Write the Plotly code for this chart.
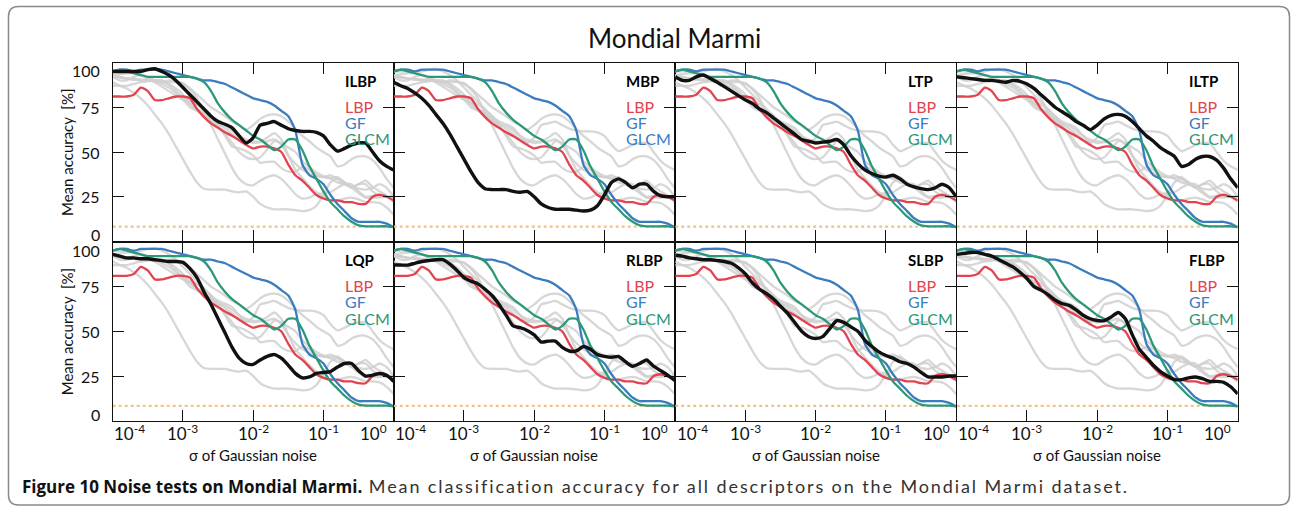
import plotly.graph_objects as go

W, H = 1291, 510

# ---------------- data ----------------
log_sigma = [-4.0, -3.9, -3.8, -3.7, -3.6, -3.5, -3.4, -3.3, -3.2, -3.1,
             -3.0, -2.9, -2.8, -2.7, -2.6, -2.5, -2.4, -2.3, -2.2, -2.1,
             -2.0, -1.9, -1.8, -1.7, -1.6, -1.5, -1.4, -1.3, -1.2, -1.1,
             -1.0, -0.9, -0.8, -0.7, -0.6, -0.5, -0.4, -0.3, -0.2, -0.1, 0.0]

lbp = [81, 81, 81, 82, 86, 84, 79, 79, 80, 81,
       81, 80, 74, 69.5, 66, 63.5, 61, 59, 56.5, 54,
       52, 53, 53, 52, 50, 43, 37, 34, 30, 26,
       24, 23, 23, 22, 22, 21, 21, 25, 26, 25, 23]
gf = [95, 96, 96, 95, 96, 96, 96, 96, 95, 94,
      93, 92, 91, 90, 90, 89, 88, 86, 84, 82,
      80, 79, 78, 76, 73, 70, 62, 43, 37, 35,
      32, 26, 21, 17, 13, 11, 11, 11, 11, 10, 8]
glcm = [95, 96, 95, 94, 93, 92, 92, 92, 92, 92,
        92, 92, 91, 89, 84, 77, 72, 68, 65, 62,
        59, 57, 54, 51, 53, 57, 57, 51, 42, 35,
        28, 22, 18, 14, 11, 9, 8.5, 8.5, 8.5, 8.5, 8]

ilbp = [95, 95, 95, 95, 95, 96, 96.5, 95, 93, 90,
        86, 82, 78, 74, 70, 67, 65.5, 63.5, 59, 55,
        58, 65, 66, 67, 65, 63, 62, 61.5, 61.5, 61,
        59, 54, 50.5, 52, 54, 55, 55, 50, 45, 42, 40]
mbp = [89, 87, 85.5, 83, 80, 76, 71, 66, 60, 53,
       46, 39, 33, 29.5, 29, 29, 29, 28, 27.5, 28,
       25, 21, 19, 18, 18, 18, 17.5, 17, 17.5, 20,
       26, 33, 35, 33, 30, 32, 32, 28, 25.5, 25, 25]
ltp = [92, 90, 90, 92, 93, 91, 89, 86.5, 84, 81.5,
       79, 77, 74, 72, 69, 66, 63, 60, 57, 56,
       55, 55.5, 56, 57, 54, 48, 43.5, 40, 38, 36.5,
       36, 37, 35, 32, 30.5, 29.5, 29, 30, 32, 30, 25]
iltp = [92, 91.5, 91, 90.5, 90, 90, 89.5, 89, 90, 89.5,
        88, 85.5, 82, 78.5, 75, 72.5, 70, 67, 65, 62.5,
        65, 68.5, 70.5, 71, 70, 67, 63, 59, 56, 52.5,
        50, 47.5, 42, 43, 46, 47.5, 47.5, 45.5, 41, 35, 30]
lqp = [93, 92, 91, 91, 90.5, 90.5, 90, 89.5, 89, 89,
       88.5, 85, 80, 72, 65, 57, 49, 41, 35, 32,
       31.5, 34, 36, 37, 35, 31, 26.5, 24, 24.5, 26.5,
       27, 27.5, 30, 32, 32, 28, 25, 25.5, 26.5, 25.5, 22]
rlbp = [87, 87, 87, 88, 89, 89.5, 90, 90, 87.5, 84,
        80, 78, 76.5, 73.5, 70, 65, 59, 53, 52, 50.5,
        48, 44, 44.5, 44.5, 41, 39, 39, 41.5, 40, 37,
        36, 35.5, 36, 33, 30.5, 32, 34, 30.5, 28, 25.5, 22.5]
slbp = [92.5, 92, 91, 90.5, 90, 90, 89.5, 89, 88, 85.5,
        82, 77, 73.5, 71, 68, 64, 60, 55, 50, 47,
        46, 47, 51.5, 56, 55, 52.5, 50, 45, 41.5, 38.5,
        36.5, 35, 33, 32, 30, 27, 24.5, 24.5, 24.5, 25, 25]
flbp = [93, 93.5, 94, 94, 93, 92, 90, 88, 86, 83,
        79.5, 75, 73, 70.5, 67.5, 65.5, 64.5, 62, 59, 57,
        56, 56, 58, 60.5, 57, 48, 40, 35.5, 31, 27.5,
        25, 23, 23, 24, 24.5, 23.5, 22, 22, 21.5, 19, 15]

panel_names = ["ILBP", "MBP", "LTP", "ILTP", "LQP", "RLBP", "SLBP", "FLBP"]
panel_curves = [ilbp, mbp, ltp, iltp, lqp, rlbp, slbp, flbp]

ref_names = ["LBP", "GF", "GLCM"]
ref_curves = [lbp, gf, glcm]

chance_level = 8.33

x_tick_exps = [-4, -3, -2, -1, 0]
x_tick_labels = ["10<sup>-4</sup>", "10<sup>-3</sup>", "10<sup>-2</sup>",
                 "10<sup>-1</sup>", "10<sup>0</sup>"]
y_tick_vals = [0, 25, 50, 75, 100]
y_tick_labels = ["0", "25", "50", "75", "100"]

title_text = "Mondial Marmi"
x_title = "σ of Gaussian noise"
y_title = "Mean accuracy  [%]"
caption_bold = "Figure 10 Noise tests on Mondial Marmi."
caption_rest = " Mean classification accuracy for all descriptors on the Mondial Marmi dataset."

# ---------------- style ----------------
RED = "#e2434f"
BLUE = "#3b7cbf"
GREEN = "#2b9878"
GRAY = "#d0d0d0"
ref_colors = [RED, BLUE, GREEN]
label_colors = {"MBP": [RED, BLUE, BLUE]}
FONT = "Lato, 'Open Sans', sans-serif"

col_left = [112.7, 393.7, 675.2, 956.7]
panel_w = 281.0
row_top = [62.5, 241.8]
panel_h = 179.0

sigma = [10 ** e for e in log_sigma]


def px(x):
    return x / W


def py(y):
    return 1 - y / H


fig = go.Figure()
annotations = []

for i, (name, curve) in enumerate(zip(panel_names, panel_curves)):
    r, c = divmod(i, 4)
    k = i + 1
    xa = "x" if k == 1 else f"x{k}"
    ya = "y" if k == 1 else f"y{k}"
    # gray: other descriptors
    for j, other in enumerate(panel_curves):
        if j == i:
            continue
        fig.add_trace(go.Scatter(x=sigma, y=other, mode="lines", xaxis=xa, yaxis=ya,
                                 line=dict(color=GRAY, width=2.3, shape="spline", smoothing=0.6),
                                 opacity=0.85, hoverinfo="skip", showlegend=False))
    # chance level
    fig.add_trace(go.Scatter(x=[sigma[0], sigma[-1]], y=[chance_level, chance_level],
                             mode="lines", xaxis=xa, yaxis=ya,
                             line=dict(color="#f1c38c", width=2.2, dash="dot"),
                             hoverinfo="skip", showlegend=False))
    # reference descriptors
    for rn, rc, col in zip(ref_names, ref_curves, ref_colors):
        fig.add_trace(go.Scatter(x=sigma, y=rc, mode="lines", xaxis=xa, yaxis=ya, name=rn,
                                 line=dict(color=col, width=2.3, shape="spline", smoothing=0.6),
                                 showlegend=False))
    # highlighted descriptor
    fig.add_trace(go.Scatter(x=sigma, y=curve, mode="lines", xaxis=xa, yaxis=ya, name=name,
                             line=dict(color="#111111", width=3.4, shape="spline", smoothing=0.6),
                             showlegend=False))

    x0 = col_left[c]
    y0 = row_top[r]
    axis_common = dict(showline=True, linecolor="#111111", linewidth=1.3, mirror="ticks",
                       ticks="inside", ticklen=11, tickwidth=1.2, tickcolor="#111111",
                       showgrid=False, zeroline=False, showticklabels=False)
    fig.layout[f"xaxis{'' if k == 1 else k}"] = dict(
        type="log", range=[log_sigma[0], log_sigma[-1]],
        domain=[px(x0), px(x0 + panel_w)], anchor=ya,
        tickvals=[10 ** e for e in x_tick_exps[1:-1]], **axis_common)
    fig.layout[f"yaxis{'' if k == 1 else k}"] = dict(
        range=[y_tick_vals[0], y_tick_vals[-1]],
        domain=[py(y0 + panel_h), py(y0)], anchor=xa,
        tickvals=y_tick_vals[1:-1], **axis_common)

    # panel legend
    lx = x0 + 230.6
    annotations.append(dict(x=px(lx), y=py(y0 + 18.5), xref="paper", yref="paper",
                            text=f"<b>{name}</b>", showarrow=False, xanchor="left",
                            yanchor="middle", font=dict(family=FONT, size=15, color="#000")))
    cols = label_colors.get(name, ref_colors)
    for rn, dy, col in zip(ref_names, [43.5, 60, 76.5], cols):
        annotations.append(dict(x=px(lx), y=py(y0 + dy), xref="paper", yref="paper",
                                text=rn, showarrow=False, xanchor="left", yanchor="middle",
                                font=dict(family=FONT, size=16, color=col)))

    # y tick labels (first column)
    if c == 0:
        for v, lab in zip(y_tick_vals, y_tick_labels):
            ypix = y0 + panel_h - v / 100 * panel_h
            if v == y_tick_vals[-1]:
                ypix += 8.5
            if v == y_tick_vals[0]:
                ypix -= 6.5
            annotations.append(dict(x=px(101.5), y=py(ypix), xref="paper", yref="paper",
                                    text=lab, showarrow=False, xanchor="right",
                                    yanchor="middle",
                                    font=dict(family=FONT, size=16, color="#111")))
        annotations.append(dict(x=px(67), y=py(y0 + panel_h / 2), xref="paper", yref="paper",
                                text=y_title, showarrow=False, textangle=-90,
                                xanchor="center", yanchor="middle",
                                font=dict(family=FONT, size=15, color="#111")))
    # x tick labels (bottom row)
    if r == 1:
        for e, lab in zip(x_tick_exps, x_tick_labels):
            xpix = x0 + (e - log_sigma[0]) / (log_sigma[-1] - log_sigma[0]) * panel_w
            if e == x_tick_exps[0]:
                xpix += 17
            if e == x_tick_exps[-1]:
                xpix -= 20
            annotations.append(dict(x=px(xpix), y=py(432), xref="paper", yref="paper",
                                    text=lab, showarrow=False, xanchor="center",
                                    yanchor="middle",
                                    font=dict(family=FONT, size=17, color="#111")))
        annotations.append(dict(x=px(x0 + panel_w / 2), y=py(455), xref="paper", yref="paper",
                                text=x_title, showarrow=False, xanchor="center",
                                yanchor="middle",
                                font=dict(family=FONT, size=15, color="#111")))

# title
annotations.append(dict(x=px(675), y=py(38), xref="paper", yref="paper", text=title_text,
                        showarrow=False, xanchor="center", yanchor="middle",
                        font=dict(family=FONT, size=26, color="#111")))
# caption
annotations.append(dict(
    x=px(20), y=py(486), xref="paper", yref="paper",
    text=(f"<b>{caption_bold}</b>"
          f"<span style='font-family:Lato;font-size:18px;letter-spacing:1.9px;color:#333'>"
          f"{caption_rest}</span>"),
    showarrow=False, xanchor="left", yanchor="middle",
    font=dict(family="'Open Sans', sans-serif", size=17, color="#111")))

# rounded frame
fx0, fy0, fx1, fy1, rad = 8.5, 6.5, 1289.5, 505, 10


def pt(x, y):
    return f"{px(x):.5f},{py(y):.5f}"


frame_path = (f"M {pt(fx0 + rad, fy0)} L {pt(fx1 - rad, fy0)} Q {pt(fx1, fy0)} {pt(fx1, fy0 + rad)} "
              f"L {pt(fx1, fy1 - rad)} Q {pt(fx1, fy1)} {pt(fx1 - rad, fy1)} "
              f"L {pt(fx0 + rad, fy1)} Q {pt(fx0, fy1)} {pt(fx0, fy1 - rad)} "
              f"L {pt(fx0, fy0 + rad)} Q {pt(fx0, fy0)} {pt(fx0 + rad, fy0)} Z")

fig.update_layout(
    width=W, height=H,
    margin=dict(l=0, r=0, t=0, b=0, pad=0),
    paper_bgcolor="white", plot_bgcolor="white",
    showlegend=False,
    annotations=annotations,
    shapes=[dict(type="path", path=frame_path, xref="paper", yref="paper",
                 line=dict(color="#8a8a8a", width=1.5), layer="below")],
)

fig.write_html("out.html", config={"displayModeBar": False},
               post_script="document.body.style.margin='0';document.body.style.padding='0';")
